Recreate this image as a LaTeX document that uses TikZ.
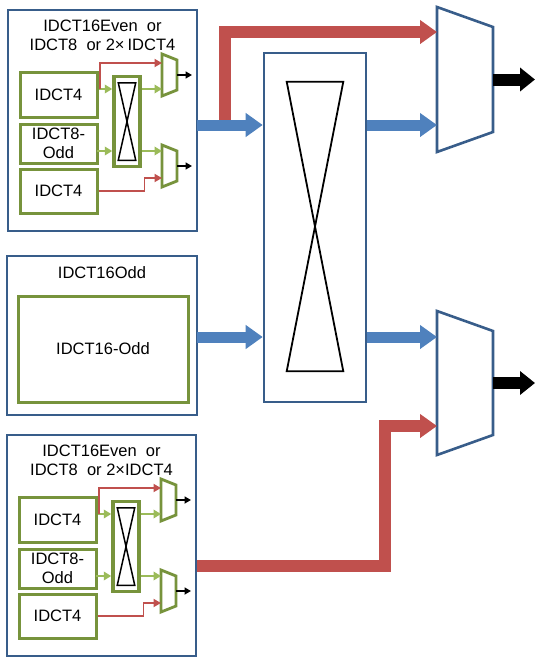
\documentclass[tikz,border=0pt]{standalone}
\usepackage{fontspec}
\setmainfont{Liberation Sans}
\usepackage{tikz}
\usetikzlibrary{arrows.meta, calc}
\definecolor{boxblue}{HTML}{385D8A}
\definecolor{busblue}{HTML}{4F81BD}
\definecolor{busred}{HTML}{C0504D}
\definecolor{unitgreen}{HTML}{77933C}
\definecolor{linkgreen}{HTML}{9BBB59}

\begin{document}
\begin{tikzpicture}[
   x=1pt, y=-1pt, font=\fontsize{16.5}{19}\selectfont,
   frame/.style    = {draw=boxblue, line width=2.6pt, fill=white, inner sep=0pt},
   unit/.style     = {draw=unitgreen, line width=3pt, fill=white, inner sep=0pt, align=center},
   swbox/.style    = {draw=unitgreen, line width=3.5pt, fill=white, inner sep=0pt},
   slot/.style     = {inner sep=0pt, outer sep=0pt},
   smallmux/.style = {draw=unitgreen, line width=2.8pt, fill=white},
   bigmux/.style   = {draw=boxblue, line width=2.6pt, fill=white},
   cross/.style    = {draw=black, line width=1.8pt},
   bus/.style      = {line width=11pt, -{Triangle[length=17pt, width=23pt]}},
   greenlink/.style = {draw=linkgreen, line width=2.4pt, -{Triangle[length=7.5pt, width=8.5pt]}},
   redlink/.style  = {draw=busred, line width=1.8pt, -{Triangle[length=7.5pt, width=8pt]}},
   outlink/.style  = {draw=black, line width=1.6pt, -{Triangle[length=6.5pt, width=7pt]}}]
  \useasboundingbox (0,0) rectangle (536,659);

  % two even blocks (top and bottom)
  \foreach \k/\dx/\dy/\gap in {a/0/0/3pt, c/-1/425/0pt} {
    \begin{scope}[shift={(\dx,\dy)}]
      \node[frame, minimum width=189, minimum height=221] (even\k) at (102.5,120.5) {};
      \node[align=center] (title\k) at (102.5,35.5) {IDCT16Even\ \ or\\IDCT8\ \ or 2×\hspace{\gap}IDCT4};
      \node[unit, minimum width=77, minimum height=45] (lo\k)  at (58.5,94.5) {IDCT4};
      \node[unit, minimum width=77, minimum height=39] (mid\k) at (58.5,143.5) {IDCT8-\\Odd};
      \node[unit, minimum width=77, minimum height=44] (hi\k)  at (58.5,191) {IDCT4};
      \node[swbox, minimum width=26, minimum height=90] (sw\k) at (127,121.5) {};
      \draw[cross, line width=1.5pt] ($(sw\k.north west)+(6,8)$) -- ($(sw\k.north east)+(-6,8)$)
            -- ($(sw\k.south west)+(6,-8)$) -- ($(sw\k.south east)+(-6,-8)$) -- cycle;
      \node[slot, minimum width=15, minimum height=42] (up\k) at (169.5,75) {};
      \node[slot, minimum width=15, minimum height=42] (dn\k) at (169.5,166) {};
      \draw[smallmux] (up\k.north west) -- ++(15,6) -- ++(0,30) -- (up\k.south west) -- cycle;
      \draw[smallmux] (dn\k.north west) -- ++(15,6) -- ++(0,30) -- (dn\k.south west) -- cycle;
      \coordinate (tap\k) at (100,89);
      \coordinate (low\k) at (97,151);

      \draw[greenlink] (lo\k.east |- tap\k) -- (sw\k.west |- tap\k);
      \draw[greenlink] (sw\k.east |- tap\k) -- (up\k.west |- tap\k);
      \draw[greenlink] (low\k) -- (sw\k.west |- low\k);
      \draw[greenlink] (sw\k.east |- low\k) -- (dn\k.west |- low\k);
      \draw[redlink] (tap\k) |- ([yshift=12pt]up\k.west);
      \draw[redlink] (hi\k.east) -- ++(46,0) |- ([yshift=-12pt]dn\k.west);
      \draw[outlink] (up\k.east) -- ++(15,0);
      \draw[outlink] (dn\k.east) -- ++(15,0);
    \end{scope}
  }

  % odd block
  \node[frame, minimum width=190, minimum height=159] (odd) at (102,335.5) {};
  \node (oddtitle) at (102,273) {IDCT16Odd};
  \node[unit, minimum width=170, minimum height=106] (oddcore) at (103,349) {IDCT16-Odd};

  % big crossbar and output muxes
  \node[frame, minimum width=102, minimum height=349] (xbar) at (315,227.5) {};
  \draw[cross] ($(xbar.north west)+(24,30)$) -- ($(xbar.north east)+(-24,30)$)
        -- ($(xbar.south west)+(24,-32)$) -- ($(xbar.south east)+(-24,-32)$) -- cycle;
  \node[slot, minimum width=56, minimum height=145] (muxT) at (465,79.5) {};
  \node[slot, minimum width=56, minimum height=144] (muxB) at (465,383) {};
  \draw[bigmux] (muxT.north west) -- ++(56,20) -- ++(0,105) -- (muxT.south west) -- cycle;
  \draw[bigmux] (muxB.north west) -- ++(56,20) -- ++(0,104) -- (muxB.south west) -- cycle;

  \coordinate (busA) at (197,125);
  \coordinate (busB) at (197,337);
  \coordinate (forkA) at (225,125);

  \draw[bus, busred, line width=12pt] (forkA) |- ([yshift=47.5pt]muxT.west);
  \draw[bus, busred, line width=12pt] ([yshift=-20.5pt]evenc.east) -- ++(188,0) |- ([yshift=-43pt]muxB.west);
  \draw[bus, busblue] (busA) -- (xbar.west |- busA);
  \draw[bus, busblue] (xbar.east |- busA) -- (muxT.west |- busA);
  \draw[bus, busblue] (busB) -- (xbar.west |- busB);
  \draw[bus, busblue] (xbar.east |- busB) -- (muxB.west |- busB);

  \draw[bus, black, line width=12pt, -{Triangle[length=15pt, width=23pt]}] (muxT.east) -- ++(42,0);
  \draw[bus, black, line width=12pt, -{Triangle[length=15pt, width=23pt]}] (muxB.east) -- ++(42,0);
\end{tikzpicture}
\end{document}
